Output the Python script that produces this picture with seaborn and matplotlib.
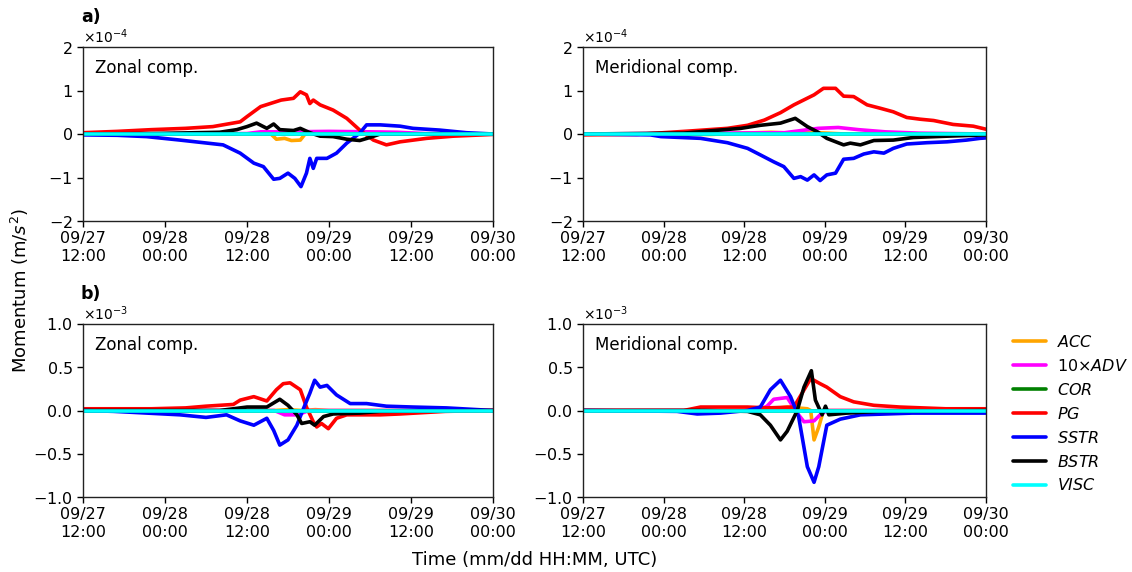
import numpy as np
import pandas as pd
import matplotlib
matplotlib.use("Agg")
import matplotlib.pyplot as plt
import seaborn as sns
from matplotlib.lines import Line2D

# ---------------- data (hours since 09/27 12:00 UTC) ----------------
tick_hours = [0, 12, 24, 36, 48, 60]
tick_labels = ["09/27\n12:00", "09/28\n00:00", "09/28\n12:00",
               "09/29\n00:00", "09/29\n12:00", "09/30\n00:00"]
terms = ["ACC", "ADV", "COR", "PG", "SSTR", "BSTR", "VISC"]
legend_labels = ["$ACC$", "10×$ADV$", "$COR$", "$PG$", "$SSTR$", "$BSTR$", "$VISC$"]
colors = ["orange", "magenta", "green", "red", "blue", "black", "cyan"]

# ---- a) zonal, units 1e-4 ----
a_zon_PG_t = [0, 5, 10, 15, 19, 23, 24, 26, 29, 30.8, 31.8, 32.7, 33.2, 33.7, 34.7, 36.6, 38.6, 40.5, 42.5, 44.4, 46.4, 50.3, 54.2, 60]
a_zon_PG_v = [0.03, 0.06, 0.1, 0.13, 0.17, 0.28, 0.4, 0.63, 0.78, 0.82, 0.97, 0.9, 0.7, 0.78, 0.67, 0.55, 0.36, 0.09, -0.14, -0.25, -0.18, -0.1, -0.05, -0.01]
a_zon_SSTR_t = [0, 5, 9.3, 14.2, 20.5, 23, 25, 26.4, 27.9, 28.8, 30, 31, 31.9, 32.7, 33.2, 33.7, 34.2, 35.7, 37.1, 38.6, 40.5, 41.5, 43.5, 46.4, 48.3, 52.2, 56.1, 60]
a_zon_SSTR_v = [-0.02, -0.03, -0.06, -0.14, -0.25, -0.44, -0.67, -0.75, -1.04, -1.02, -0.9, -1.02, -1.21, -0.9, -0.56, -0.79, -0.56, -0.56, -0.44, -0.21, 0.02, 0.21, 0.21, 0.18, 0.13, 0.09, 0.03, 0.0]
a_zon_BSTR_t = [0, 10, 20, 22.5, 24, 25.4, 26.9, 27.9, 28.8, 30.8, 31.8, 33.2, 34.7, 36.6, 38.6, 40.5, 42, 43.5, 50, 60]
a_zon_BSTR_v = [0.0, 0.01, 0.04, 0.1, 0.17, 0.25, 0.13, 0.23, 0.1, 0.08, 0.13, 0.03, -0.05, -0.06, -0.12, -0.15, -0.08, 0.0, 0.0, 0.0]
a_zon_ACC_t = [0, 27.5, 28.3, 29.5, 30.5, 31.8, 32.5, 34.5, 35.5, 60]
a_zon_ACC_v = [0.0, 0.0, -0.12, -0.1, -0.15, -0.14, 0.0, 0.05, 0.0, 0.0]
a_zon_ADV_t = [0, 24, 26, 30, 36, 42, 46, 50, 60]
a_zon_ADV_v = [0.0, 0.01, 0.05, 0.05, 0.06, 0.05, 0.04, 0.01, 0.0]
a_zon_COR_t = [0, 60]
a_zon_COR_v = [0.0, 0.0]
a_zon_VISC_t = [0, 60]
a_zon_VISC_v = [0.0, 0.0]

# ---- a) meridional, units 1e-4 ----
a_mer_PG_t = [0, 8, 16, 21.5, 24.5, 27, 29.4, 31.4, 34.4, 35.8, 37.6, 38.8, 40.3, 42.3, 44.3, 46.2, 48.2, 50.2, 52.2, 55.1, 58.1, 60]
a_mer_PG_v = [-0.02, -0.01, 0.07, 0.13, 0.2, 0.32, 0.49, 0.67, 0.9, 1.05, 1.05, 0.87, 0.86, 0.67, 0.59, 0.51, 0.38, 0.34, 0.31, 0.22, 0.18, 0.11]
a_mer_SSTR_t = [0, 10, 11.6, 17.5, 21.5, 24.5, 26.4, 28.4, 29.9, 31.4, 32.4, 33.4, 34.4, 35.3, 36.3, 37.6, 38.8, 40.3, 41.8, 43.3, 44.8, 46.2, 48.2, 51.2, 54.2, 57.1, 59.1, 60]
a_mer_SSTR_v = [0.0, -0.02, -0.06, -0.1, -0.2, -0.33, -0.48, -0.64, -0.75, -1.02, -0.98, -1.06, -0.94, -1.07, -0.94, -0.9, -0.58, -0.56, -0.46, -0.41, -0.44, -0.33, -0.23, -0.2, -0.18, -0.14, -0.1, -0.09]
a_mer_BSTR_t = [0, 15, 19.5, 23.5, 26.4, 29.4, 31.6, 33.4, 34.9, 36.3, 38.8, 39.8, 41.3, 43.3, 46.2, 49.2, 54.2, 60]
a_mer_BSTR_v = [0.0, 0.02, 0.08, 0.13, 0.2, 0.25, 0.36, 0.17, 0.05, -0.1, -0.25, -0.21, -0.25, -0.15, -0.14, -0.08, -0.05, -0.02]
a_mer_ACC_t = [0, 19, 24, 28, 31, 35, 39, 60]
a_mer_ACC_v = [0.0, -0.01, 0.02, 0.04, 0.02, 0.03, 0.0, 0.0]
a_mer_ADV_t = [0, 30, 35, 38, 41, 45, 50, 60]
a_mer_ADV_v = [0.0, 0.03, 0.13, 0.15, 0.1, 0.05, 0.02, 0.0]
a_mer_COR_t = [0, 60]
a_mer_COR_v = [0.0, 0.0]
a_mer_VISC_t = [0, 60]
a_mer_VISC_v = [0.0, 0.0]

# ---- b) zonal, units 1e-3 ----
b_zon_PG_t = [0, 10, 15, 18, 22, 23, 25, 26.9, 28.3, 29.3, 30.3, 31.8, 32.7, 33.7, 34.2, 34.9, 35.9, 37.1, 38.6, 43.5, 46.4, 53, 60]
b_zon_PG_v = [0.02, 0.02, 0.03, 0.05, 0.07, 0.12, 0.16, 0.11, 0.24, 0.31, 0.32, 0.24, 0.04, -0.13, -0.19, -0.15, -0.21, -0.09, -0.05, -0.05, -0.04, -0.01, 0.0]
b_zon_SSTR_t = [0, 4.5, 14.2, 18, 21, 23, 25, 26.9, 27.9, 28.8, 30, 31.3, 32.2, 33.2, 33.9, 34.7, 35.7, 37.1, 39.1, 41.5, 44.4, 48.3, 53.2, 60]
b_zon_SSTR_v = [0.0, -0.01, -0.05, -0.08, -0.05, -0.12, -0.17, -0.09, -0.23, -0.4, -0.34, -0.17, 0.01, 0.2, 0.35, 0.27, 0.29, 0.18, 0.08, 0.08, 0.05, 0.04, 0.03, 0.0]
b_zon_BSTR_t = [0, 20, 24, 26.9, 28.8, 30, 31.3, 32, 33.2, 33.9, 35.2, 36.6, 40.5, 43.5, 60]
b_zon_BSTR_v = [0.0, 0.0, 0.04, 0.04, 0.13, 0.06, -0.05, -0.15, -0.13, -0.17, -0.07, -0.04, -0.03, -0.01, 0.0]
b_zon_ACC_t = [0, 28, 30, 32, 34, 36, 60]
b_zon_ACC_v = [0.0, 0.0, 0.01, 0.0, 0.01, 0.0, 0.0]
b_zon_ADV_t = [0, 28, 29.5, 31.5, 33, 60]
b_zon_ADV_v = [0.0, 0.0, -0.05, -0.05, 0.0, 0.0]
b_zon_COR_t = [0, 60]
b_zon_COR_v = [0.0, 0.0]
b_zon_VISC_t = [0, 60]
b_zon_VISC_v = [0.0, 0.0]

# ---- b) meridional, units 1e-3 ----
b_mer_PG_t = [0, 15, 17.5, 24.5, 27.4, 31.4, 33.9, 35.3, 36.3, 38.3, 40.3, 43.3, 47.2, 54, 60]
b_mer_PG_v = [0.0, 0.0, 0.04, 0.04, 0.03, 0.04, 0.37, 0.31, 0.27, 0.16, 0.1, 0.06, 0.04, 0.02, 0.02]
b_mer_SSTR_t = [0, 14, 17, 20.5, 24.5, 26.4, 27.9, 29.4, 30.9, 32.1, 33.4, 34.4, 35.1, 36.3, 38.3, 41.3, 49, 60]
b_mer_SSTR_v = [0.0, -0.01, -0.04, -0.03, 0.0, 0.04, 0.24, 0.35, 0.16, -0.07, -0.65, -0.83, -0.65, -0.17, -0.1, -0.05, -0.03, -0.03]
b_mer_BSTR_t = [0, 18, 24.5, 26.4, 27.9, 29.4, 30.4, 31.9, 32.9, 34.0, 34.6, 35.6, 36.1, 36.6, 39.3, 44, 60]
b_mer_BSTR_v = [0.0, 0.0, -0.01, -0.05, -0.17, -0.34, -0.24, 0.0, 0.27, 0.46, 0.12, -0.05, 0.05, -0.05, -0.03, -0.01, 0.0]
b_mer_ACC_t = [0, 26, 30.4, 33.4, 33.9, 34.4, 35.1, 35.8, 60]
b_mer_ACC_v = [0.0, 0.0, 0.04, 0.02, 0.0, -0.34, -0.19, 0.0, 0.0]
b_mer_ADV_t = [0, 26, 27.4, 28.4, 30.4, 31.9, 32.9, 34.4, 35.3, 36.3, 60]
b_mer_ADV_v = [0.0, 0.0, 0.05, 0.13, 0.15, -0.03, -0.13, -0.12, -0.05, 0.0, 0.0]
b_mer_COR_t = [0, 60]
b_mer_COR_v = [0.0, 0.0]
b_mer_VISC_t = [0, 60]
b_mer_VISC_v = [0.0, 0.0]

panels = [
    ("a_zon", 1e-4, "Zonal comp."),
    ("a_mer", 1e-4, "Meridional comp."),
    ("b_zon", 1e-3, "Zonal comp."),
    ("b_mer", 1e-3, "Meridional comp."),
]
g = globals()

# ---------------- plotting ----------------
sns.set_theme(style="ticks")
plt.rcParams["font.family"] = ["DejaVu Sans"]
plt.rcParams["mathtext.fontset"] = "dejavusans"
for k in ["text.color", "axes.labelcolor", "xtick.color", "ytick.color", "axes.edgecolor"]:
    plt.rcParams[k] = "black"

fig = plt.figure(figsize=(11.32, 5.72), dpi=100)
W, H = 1132, 572
boxes = [(83, 47, 493, 221), (583, 47, 986, 221),
         (83, 324, 493, 497), (583, 324, 986, 497)]
axes = []
for (x0, y0, x1, y1) in boxes:
    axes.append(fig.add_axes([x0 / W, 1 - y1 / H, (x1 - x0) / W, (y1 - y0) / H]))

for ax, (key, scale, title) in zip(axes, panels):
    frames = []
    for term in terms:
        t = g[f"{key}_{term}_t"]
        v = g[f"{key}_{term}_v"]
        frames.append(pd.DataFrame({"hour": t, "value": np.array(v) * scale, "term": term}))
    df = pd.concat(frames, ignore_index=True)
    sns.lineplot(data=df, x="hour", y="value", hue="term", hue_order=terms,
                 palette=colors, linewidth=2.6, ax=ax, legend=False, sort=False)
    ax.set_xlim(0, 60)
    if scale == 1e-4:
        ax.set_ylim(-2e-4, 2e-4)
        ax.set_yticks(np.array([-2, -1, 0, 1, 2]) * 1e-4)
    else:
        ax.set_ylim(-1e-3, 1e-3)
        ax.set_yticks(np.array([-1.0, -0.5, 0.0, 0.5, 1.0]) * 1e-3)
    ax.ticklabel_format(axis="y", style="sci", scilimits=(0, 0), useMathText=True)
    ax.yaxis.get_offset_text().set_fontsize(10)
    ax.set_xticks(tick_hours)
    ax.set_xticklabels(tick_labels)
    ax.tick_params(labelsize=11.5, length=4, width=1, colors="black")
    ax.set_xlabel("")
    ax.set_ylabel("")
    ax.text(0.03, 0.93, title, transform=ax.transAxes, fontsize=12, va="top", ha="left")
    for s in ax.spines.values():
        s.set_linewidth(1.0)
        s.set_color("#222222")

axes[0].text(-0.005, 1.12, "a)", transform=axes[0].transAxes, fontsize=12.5,
             fontweight="bold", ha="left", va="bottom")
axes[2].text(-0.005, 1.12, "b)", transform=axes[2].transAxes, fontsize=12.5,
             fontweight="bold", ha="left", va="bottom")

fig.text(20 / W, 1 - 290 / H, "Momentum (m/$s^2$)", rotation=90, fontsize=13,
         ha="center", va="center")
fig.text(535 / W, 1 - 560 / H, "Time (mm/dd HH:MM, UTC)", fontsize=13,
         ha="center", va="center")

handles = [Line2D([0], [0], color=c, lw=2.6) for c in colors]
fig.legend(handles, legend_labels, loc="upper left",
           bbox_to_anchor=(1003 / W, 1 - 324 / H), frameon=False, fontsize=11.5,
           handlelength=2.1, handletextpad=0.7, labelspacing=0.5, borderaxespad=0.2)

fig.savefig("out.png", dpi=100)
